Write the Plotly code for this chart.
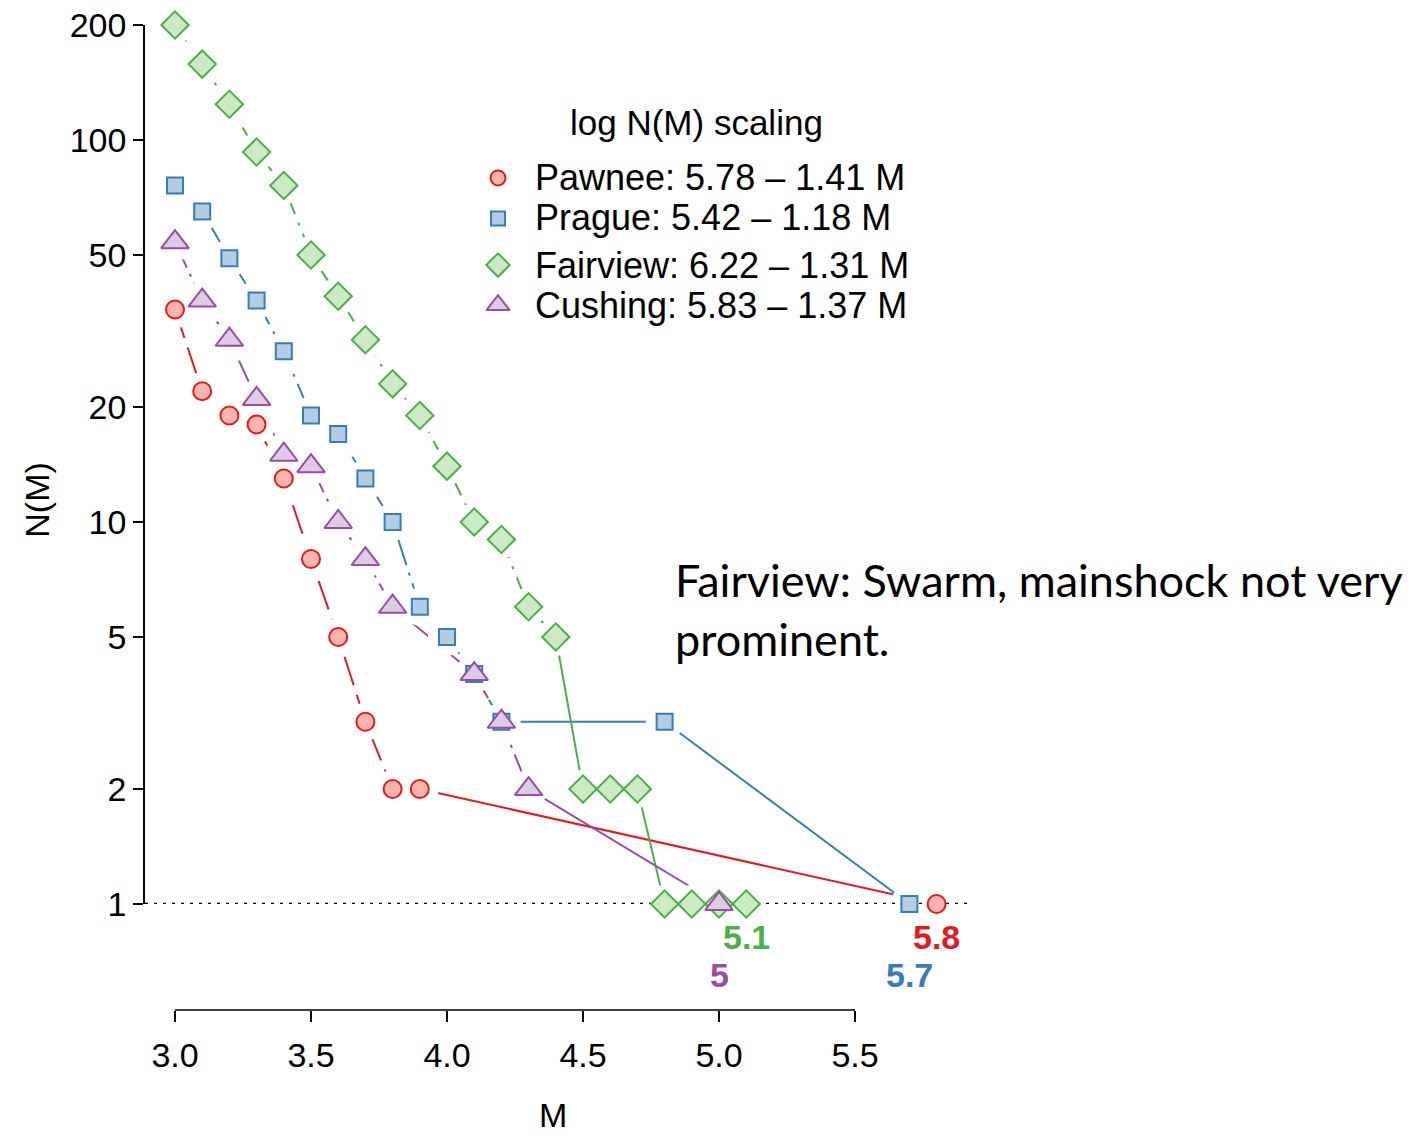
import plotly.graph_objects as go
import math

# ---------------- data ----------------
pawnee_M = [3.0, 3.1, 3.2, 3.3, 3.4, 3.5, 3.6, 3.7, 3.8, 3.9, 5.8]
pawnee_N = [36, 22, 19, 18, 13, 8, 5, 3, 2, 2, 1]

prague_M = [3.0, 3.1, 3.2, 3.3, 3.4, 3.5, 3.6, 3.7, 3.8, 3.9, 4.0, 4.1, 4.2, 4.8, 5.7]
prague_N = [76, 65, 49, 38, 28, 19, 17, 13, 10, 6, 5, 4, 3, 3, 1]

fairview_M = [3.0, 3.1, 3.2, 3.3, 3.4, 3.5, 3.6, 3.7, 3.8, 3.9, 4.0, 4.1, 4.2, 4.3, 4.4,
              4.5, 4.6, 4.7, 4.8, 4.9, 5.0, 5.1]
fairview_N = [200, 158, 124, 93, 76, 50, 39, 30, 23, 19, 14, 10, 9, 6, 5,
              2, 2, 2, 1, 1, 1, 1]

cushing_M = [3.0, 3.1, 3.2, 3.3, 3.4, 3.5, 3.6, 3.7, 3.8, 4.1, 4.2, 4.3, 5.0]
cushing_N = [54, 38, 30, 21, 15, 14, 10, 8, 6, 4, 3, 2, 1]

legend_title = "log N(M) scaling"
legend_labels = ["Pawnee: 5.78 \u2013 1.41 M", "Prague: 5.42 \u2013 1.18 M",
                 "Fairview: 6.22 \u2013 1.31 M", "Cushing: 5.83 \u2013 1.37 M"]
max_labels = ["5.8", "5.7", "5.1", "5"]

x_ticks = [3.0, 3.5, 4.0, 4.5, 5.0, 5.5]
x_ticktext = ["3.0", "3.5", "4.0", "4.5", "5.0", "5.5"]
y_ticks = [1, 2, 5, 10, 20, 50, 100, 200]

# ---------------- styles ----------------
series = [
    dict(M=pawnee_M, N=pawnee_N, name=legend_labels[0], line="#E41A1C", fill="#FBB4AE",
         symbol="circle", size=18, lsize=15, dash="30px,10px", lab=max_labels[0], shift=-33),
    dict(M=prague_M, N=prague_N, name=legend_labels[1], line="#377EB8", fill="#B3CDE3",
         symbol="square", size=16, lsize=14, dash="28px,8px,3px,8px", lab=max_labels[1], shift=-71),
    dict(M=fairview_M, N=fairview_N, name=legend_labels[2], line="#4DAF4A", fill="#CCEBC5",
         symbol="diamond", size=21, lsize=18, dash="20px,9px,3px,9px", lab=max_labels[2], shift=-33),
    dict(M=cushing_M, N=cushing_N, name=legend_labels[3], line="#984EA3", fill="#DECBE4",
         symbol="triangle-up", size=24, lsize=20, dash="28px,7px,3px,7px", lab=max_labels[3], shift=-71),
]

fig = go.Figure()

# lines (dashed for steps, solid for long jumps)
for s in series:
    M, N = s["M"], s["N"]
    dx, dy, sx, sy = [], [], [], []
    for i in range(len(M)):
        if i > 0:
            jump = (M[i] - M[i - 1] > 0.15) or (N[i - 1] / N[i] >= 2)
            if jump:
                dx.append(None); dy.append(None)
                sx += [M[i - 1], M[i], None]; sy += [N[i - 1], N[i], None]
        dx.append(M[i]); dy.append(N[i])
    fig.add_trace(go.Scatter(x=dx, y=dy, mode="lines", showlegend=False, hoverinfo="skip",
                             line=dict(color=s["line"], width=2, dash=s["dash"]),
                             cliponaxis=False, connectgaps=False))
    fig.add_trace(go.Scatter(x=sx, y=sy, mode="lines", showlegend=False, hoverinfo="skip",
                             line=dict(color=s["line"], width=2), cliponaxis=False,
                             connectgaps=False))

# white halos to create gaps around points
for s in series:
    fig.add_trace(go.Scatter(x=s["M"], y=s["N"], mode="markers", showlegend=False,
                             hoverinfo="skip", cliponaxis=False,
                             marker=dict(symbol="circle", size=38, color="white",
                                         line=dict(width=0))))

# dotted reference line at N = 1
x_lo, x_hi = 2.8897, 5.9228
fig.add_trace(go.Scatter(x=[x_lo, x_hi], y=[1, 1], mode="lines", showlegend=False,
                         hoverinfo="skip", cliponaxis=False,
                         line=dict(color="black", width=2.5, dash="3px,6px")))

# markers
for s in series:
    fig.add_trace(go.Scatter(x=s["M"], y=s["N"], mode="markers", name=s["name"],
                             cliponaxis=False, showlegend=False,
                             marker=dict(symbol=s["symbol"], size=s["size"], color=s["fill"],
                                         line=dict(color=s["line"], width=2))))

# custom legend (symbols on an invisible overlay axis, text as annotations)
leg_sym_x = 0.4279
leg_rows_ax = [0.826, 0.780, 0.7269, 0.6814]      # positions on overlay y2 (0..1 over y domain)
leg_txt_x = 0.4703
leg_rows_paper = [0.8447, 0.8041, 0.7563, 0.7157]
for s, ry, py in zip(series, leg_rows_ax, leg_rows_paper):
    fig.add_trace(go.Scatter(x=[leg_sym_x], y=[ry], xaxis="x2", yaxis="y2", mode="markers",
                             showlegend=False, hoverinfo="skip", cliponaxis=False,
                             marker=dict(symbol=s["symbol"], size=s["lsize"], color=s["fill"],
                                         line=dict(color=s["line"], width=2))))
    fig.add_annotation(text=s["name"], xref="paper", yref="paper", x=leg_txt_x, y=py,
                       xanchor="left", yanchor="middle", showarrow=False,
                       font=dict(family="Liberation Sans", size=36, color="black"))
fig.add_annotation(text=legend_title, xref="paper", yref="paper", x=0.669, y=0.9015,
                   xanchor="center", yanchor="middle", showarrow=False,
                   font=dict(family="Liberation Sans", size=35, color="black"))

# max magnitude labels
for s in series:
    fig.add_annotation(x=max(s["M"]), y=0, xref="x", yref="y", text="<b>%s</b>" % s["lab"],
                       showarrow=False, yshift=s["shift"],
                       font=dict(family="Liberation Sans", size=34, color=s["line"]))

# x axis line (detached)
fig.add_shape(type="line", xref="x", yref="paper", x0=min(x_ticks), x1=max(x_ticks),
              y0=0, y1=0, line=dict(color="black", width=1.5))

# axis titles
fig.add_annotation(text="M", xref="paper", yref="paper", x=0.4945, y=-0.107,
                   xanchor="center", yanchor="middle", showarrow=False,
                   font=dict(family="Liberation Sans", size=34, color="black"))
fig.add_annotation(text="N(M)", xref="paper", yref="paper", x=-0.131, y=0.518,
                   xanchor="center", yanchor="middle", textangle=-90, showarrow=False,
                   font=dict(family="Liberation Sans", size=34, color="black"))

# comment text
fig.add_annotation(text="Fairview: Swarm, mainshock not very<br>prominent.",
                   xref="paper", yref="paper", x=0.64, y=0.466, xanchor="left", yanchor="top",
                   align="left", showarrow=False,
                   font=dict(family="Lato", size=45, color="black"))

fig.update_layout(
    width=1414, height=1136,
    margin=dict(l=145, r=444, t=25, b=126, autoexpand=False),
    plot_bgcolor="rgba(0,0,0,0)", paper_bgcolor="white",
    font=dict(family="Liberation Sans", size=32, color="black"),
    showlegend=False,
    xaxis=dict(range=[x_lo, x_hi], anchor="free", position=0, showline=False,
               showgrid=False, zeroline=False, tickvals=x_ticks, ticktext=x_ticktext,
               ticks="outside", ticklen=11, tickwidth=1.5, tickcolor="black",
               ticklabelstandoff=4, automargin=False,
               tickfont=dict(family="Liberation Sans", size=34)),
    yaxis=dict(type="log", range=[0, math.log10(200)], domain=[0.1076, 1],
               showline=True, linecolor="black", linewidth=1.5, showgrid=False,
               zeroline=False, tickvals=y_ticks, ticktext=[str(v) for v in y_ticks],
               ticks="outside", ticklen=10, tickwidth=1.5, tickcolor="black",
               automargin=False,
               tickfont=dict(family="Liberation Sans", size=34)),
    xaxis2=dict(range=[0, 1], overlaying="x", visible=False, fixedrange=True),
    yaxis2=dict(range=[0, 1], overlaying="y", visible=False, fixedrange=True),
)

fig.write_html("out.html")
